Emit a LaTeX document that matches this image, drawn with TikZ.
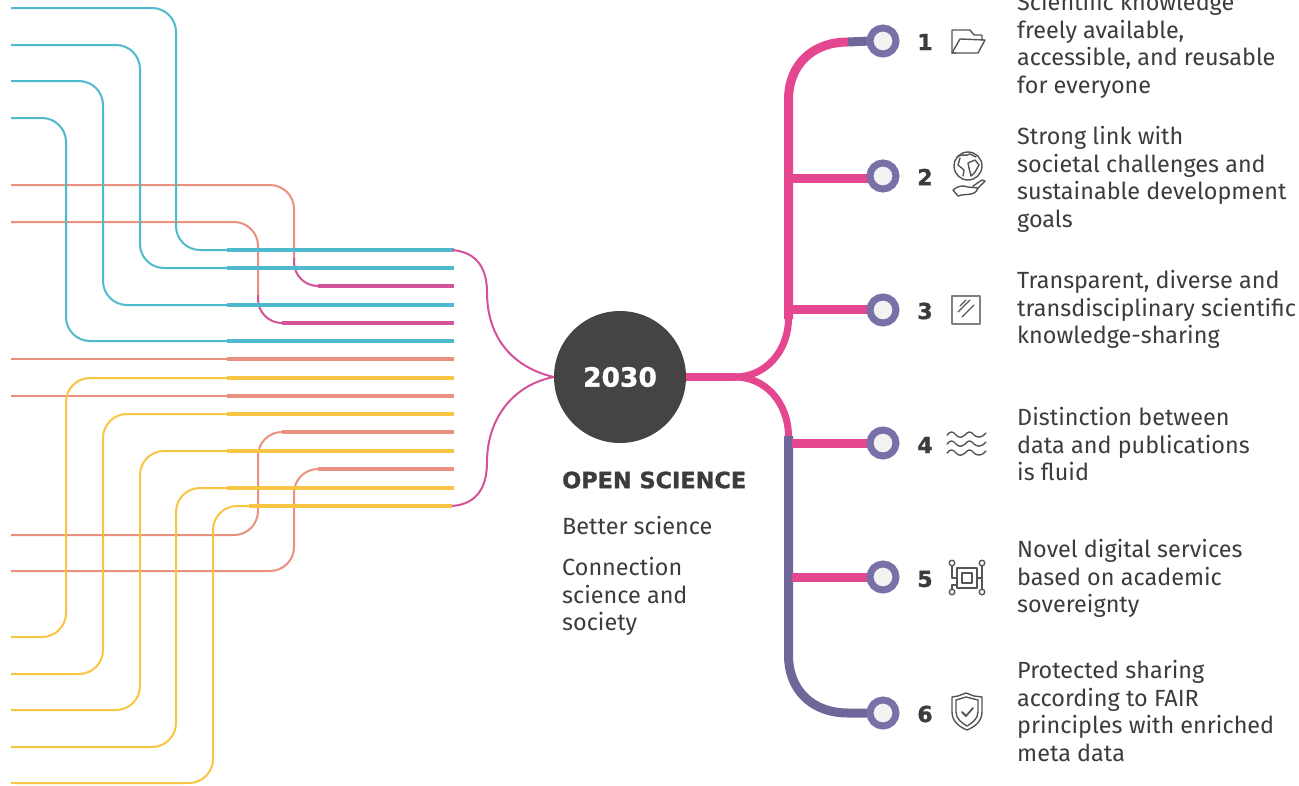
\documentclass[tikz,border=0pt]{standalone}
\usepackage{fontspec}
\setmainfont{Fira Sans}
\newfontfamily\heavy{DejaVu Sans Bold}[FakeBold=1.2]
\usetikzlibrary{calc}
\definecolor{blu}{HTML}{4FB9CD}
\definecolor{sal}{HTML}{E9907F}
\definecolor{yel}{HTML}{F8C543}
\definecolor{pnk}{HTML}{E4468F}
\definecolor{mag}{HTML}{D4529A}
\definecolor{pur}{HTML}{706699}
\definecolor{ring}{HTML}{7A70A8}
\definecolor{dark}{HTML}{444444}
\definecolor{txt}{HTML}{3C3C3C}
\definecolor{ico}{HTML}{555555}
\tikzset{
 thin line/.style={line width=2pt,rounded corners=24pt},
 fat line/.style={line width=3.2pt},
 trunk/.style={line width=9pt,pnk},
 trunkp/.style={line width=9pt,pur},
 ringnode/.style={circle,minimum size=25pt,inner sep=0pt},
 numlabel/.style={font=\heavy\fontsize{22}{22}\selectfont,text=txt,anchor=center},
 desc/.style={font=\fontsize{23.4}{27.6}\selectfont,text=txt,align=left,anchor=north west,inner sep=0pt},
 icon/.style={ico,line width=1.4pt,line join=round,line cap=round},
}
\begin{document}
\begin{tikzpicture}[x=1pt,y=-1pt]
\useasboundingbox (0,0) rectangle (1299,785);
% salmon straight
\foreach \y in {359,396}{
 \draw[sal,line width=2pt] (11,\y) -- (227,\y);
 \draw[sal,fat line] (227,\y) -- (454,\y);
}
% salmon to pink (upper)
\draw[sal,thin line] (11,185) -- (294,185) -- (294,264);
\draw[sal,thin line] (11,222) -- (258,222) -- (258,301);
\draw[mag,thin line] (294,258) -- (294,286) -- (335,286);
\draw[mag,thin line] (258,295) -- (258,323) -- (299,323);
\draw[mag,fat line] (318,286) -- (454,286);
\draw[mag,fat line] (282,323) -- (454,323);
% salmon lower
\draw[sal,thin line] (11,535) -- (258,535) -- (258,432) -- (300,432);
\draw[sal,thin line] (11,571) -- (294,571) -- (294,469) -- (330,469);
\draw[sal,fat line] (282,432) -- (454,432);
\draw[sal,fat line] (318,469) -- (454,469);
% blue
\draw[blu,thin line] (11,8) -- (176,8) -- (176,250) -- (240,250);
\draw[blu,thin line] (11,45) -- (140,45) -- (140,268) -- (240,268);
\draw[blu,thin line] (11,81) -- (103,81) -- (103,305) -- (240,305);
\draw[blu,thin line] (11,118) -- (66,118) -- (66,341) -- (240,341);
\foreach \y in {250,268,305,341}{\draw[blu,fat line] (227,\y) -- (454,\y);}
% yellow
\draw[yel,thin line] (11,637) -- (66,637) -- (66,378) -- (240,378);
\draw[yel,thin line] (11,674) -- (103,674) -- (103,414) -- (240,414);
\draw[yel,thin line] (11,710) -- (140,710) -- (140,451) -- (240,451);
\draw[yel,thin line] (11,747) -- (176,747) -- (176,488) -- (240,488);
\draw[yel,thin line] (11,783) -- (213,783) -- (213,506) -- (260,506);
\foreach \y in {378,414,451,488}{\draw[yel,fat line] (227,\y) -- (454,\y);}
\draw[yel,fat line] (249,506) -- (452,506);
% centre
\node[circle,fill=dark,minimum size=132pt,inner sep=0pt] (hub) at (620,377) {};
\node[font=\heavy\fontsize{26.5}{26.5}\selectfont,text=white] (year) at (620,377) {2030};
% curves to hub
\draw[mag,line width=2pt] (452,250) .. controls (478,252) and (487,270) .. (487,292)
  .. controls (487,340) and (515,368) .. (hub.west);
\draw[mag,line width=2pt] (452,506) .. controls (478,504) and (487,486) .. (487,462)
  .. controls (487,420) and (512,385) .. (hub.west);
% trunks
\coordinate (fork) at (735,377);
\coordinate (upj) at (788.5,319);
\coordinate (lowj) at (788.5,436);
\node[ringnode] (r1) at (883,41) {};
\node[ringnode] (r2) at (883,176) {};
\node[ringnode] (r3) at (883,310) {};
\node[ringnode] (r4) at (883,443) {};
\node[ringnode] (r5) at (883,577) {};
\node[ringnode] (r6) at (883,713) {};
\draw[trunkp] (lowj) -- (788.5,655) .. controls (788.5,690) and (812,713) .. (848,713) -- (r6.west);
\draw[trunkp] (848,42) -- (r1.west);
\draw[trunk,line width=8pt] (hub.east |- fork) -- (fork);
\draw[line width=7pt,pnk] (fork) .. controls (765,377) and (788,352) .. (upj);
\draw[line width=7pt,pnk] (fork) .. controls (765,377) and (788,402) .. (lowj);
\draw[trunk] (upj) -- (788.5,100) .. controls (788.5,65) and (812,42) .. (848,42);
\draw[trunk] (788,178) -- (r2.west |- 0,178);
\draw[trunk] (788,309) -- (r3.west |- 0,309);
\draw[trunk] (792,443) -- (r4.west |- 0,443);
\draw[trunk] (792,577) -- (r5.west |- 0,577);
% rings on top
\foreach \n/\y in {1/41,2/176,3/310,4/443,5/577,6/713}{
 \fill[black!5] (883,\y) circle (10pt);
 \draw[ring,line width=7pt] (883,\y) circle (13pt);
}
% numbers
\node[numlabel] (n1) at (925,42) {1};
\node[numlabel] (n2) at (925,177) {2};
\node[numlabel] (n3) at (925,311) {3};
\node[numlabel] (n4) at (925,445) {4};
\node[numlabel] (n5) at (925,579) {5};
\node[numlabel] (n6) at (925,714) {6};
% texts
\node[desc] (t1) at (1017,-8) {Scientific knowledge\\freely available,\\accessible, and reusable\\for everyone};
\node[desc] (t2) at (1017,126) {Strong link with\\societal challenges and\\sustainable development\\goals};
\node[desc] (t3) at (1017,270) {Transparent, diverse and\\transdisciplinary scientific\\knowledge-sharing};
\node[desc] (t4) at (1017,407) {Distinction between\\data and publications\\is fluid};
\node[desc] (t5) at (1017,539) {Novel digital services\\based on academic\\sovereignty};
\node[desc] (t6) at (1017,660) {Protected sharing\\according to FAIR\\principles with enriched\\meta data};
\node[font=\heavy\fontsize{22.4}{22.4}\selectfont,text=txt,anchor=west,inner sep=0pt] (os) at (562,480) {OPEN SCIENCE};
\node[desc] (bs) at (562,516) {Better science};
\node[desc] (cs) at (562,557) {Connection\\science and\\society};
% icons
\begin{scope}[icon]
 % folder
 \draw (956,53) -- (952,53) -- (952,30) -- (970,30) -- (974,35) -- (982,35) -- (982,40);
 \draw (952,53) -- (978,53) -- (985,40) -- (960,39) -- (952,53);
 % globe + hand
 \draw (968,166) circle (14pt);
 \draw (957,157) .. controls (962,153) and (966,157) .. (970,154) -- (976,157) (960,158) -- (958,165) -- (964,170) -- (963,176)
       (968,163) -- (975,160) -- (979,165) -- (975,172) -- (971,176) -- (969,168) -- (968,163);
 \draw (953,190) .. controls (958,186) and (962,185) .. (968,187) -- (978,188) -- (985,181) -- (982,180) -- (973,186) (953,190) -- (958,196) .. controls (965,193) and (975,197) .. (978,188);
 % square
 \draw[line width=1.8pt,black!50] (952,296) rectangle (980,324);
 \draw[line width=1.2pt] (958,312) -- (970,300) (962,317) -- (974,305);
 \draw[line width=1.2pt] (960,306) -- (966,300);
 % waves
 \foreach \yy in {435,444,453}{
  \draw (947,\yy) .. controls (950,\yy-4) and (953,\yy-4) .. (956,\yy) .. controls (959,\yy+3) and (961,\yy+3) .. (965,\yy) .. controls (968,\yy-4) and (971,\yy-4) .. (974,\yy) .. controls (977,\yy+3) and (982,\yy+3) .. (986,\yy-2);
 }
 % chip
 \draw (957,568) rectangle (977,588);
 \draw (962,573) rectangle (972,583);
 \draw (952,563) circle (2.8pt) (982,563) circle (2.8pt) (952,592) circle (2.8pt) (982,592) circle (2.8pt);
 \draw (952,566) -- (952,578) -- (957,578) (982,566) -- (982,589) (982,578) -- (977,578) (952,589) -- (952,585) -- (957,585);
 % shield
 \draw (966,693) -- (958,696) -- (952,697) -- (952,712) .. controls (952,722) and (960,727) .. (967,730) .. controls (974,727) and (982,722) .. (982,712) -- (982,697) -- (974,696) -- (966,693);
 \draw (966,697) -- (956,700) -- (956,712) .. controls (956,719) and (962,723) .. (967,726) .. controls (972,723) and (978,719) .. (978,712) -- (978,700) -- (966,697);
 \draw[line width=1.8pt] (962,712) -- (966,716) -- (973,708);
\end{scope}
\end{tikzpicture}
\end{document}
